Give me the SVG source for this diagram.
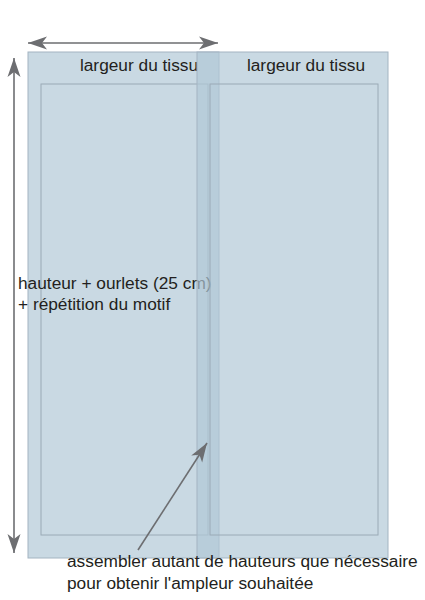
<svg xmlns="http://www.w3.org/2000/svg" width="425" height="600" viewBox="0 0 425 600">
<style>
.panel{fill:rgb(176,200,214);fill-opacity:0.685;stroke:#a3b4c1;stroke-width:1}
.inner{fill:none;stroke:#9aaab6;stroke-width:1}
.t{font-family:"Liberation Sans",Arial,sans-serif;font-size:17.3px;fill:#231f20}
.conn{stroke:#6d6e71;stroke-width:1.6;fill:none}
</style>
<defs>
<marker id="ah" viewBox="-20 -7 22 14" markerWidth="22" markerHeight="14" refX="0" refY="0" orient="auto-start-reverse" markerUnits="userSpaceOnUse">
<path d="M0,0 L-19,-6.5 L-14,0 L-19,6.5 Z" fill="#6d6e71"/>
</marker>
</defs>
<rect width="425" height="600" fill="#ffffff"/>
<g id="panel-left">
<rect class="panel" x="28" y="52" width="191" height="506"/>
<rect class="inner" x="41" y="84" width="167" height="451"/>
<text class="t" x="139" y="71" text-anchor="middle">largeur du tissu</text>
<text class="t" x="18" y="289">hauteur + ourlets (25 cm)</text>
<text class="t" x="18" y="310">+ répétition du motif</text>
</g>
<g id="panel-right">
<rect class="panel" x="197" y="52" width="191" height="506"/>
<rect class="inner" x="210" y="84" width="168" height="451"/>
<text class="t" x="306" y="71" text-anchor="middle">largeur du tissu</text>
</g>
<g id="connectors">
<line class="conn" x1="28" y1="43" x2="218" y2="43" marker-start="url(#ah)" marker-end="url(#ah)"/>
<line class="conn" x1="14" y1="58" x2="14" y2="553" marker-start="url(#ah)" marker-end="url(#ah)"/>
<line class="conn" x1="138" y1="550" x2="207" y2="443" marker-end="url(#ah)"/>
</g>
<g id="caption">
<text class="t" x="67" y="567">assembler autant de hauteurs que nécessaire</text>
<text class="t" x="67" y="589">pour obtenir l'ampleur souhaitée</text>
</g>
</svg>
